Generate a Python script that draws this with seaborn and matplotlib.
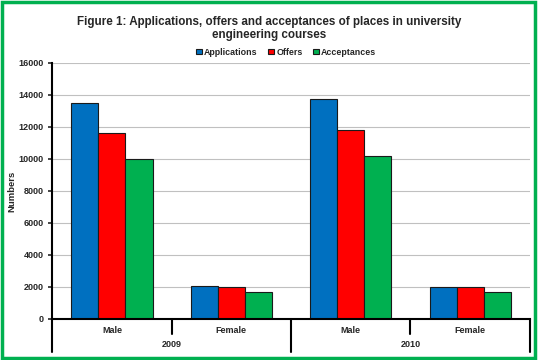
import numpy as np
import pandas as pd
import matplotlib
matplotlib.use("Agg")
import matplotlib.pyplot as plt
import matplotlib.transforms as mtransforms
from matplotlib.patches import Rectangle
import seaborn as sns

# Data
years = ["2009", "2009", "2010", "2010"]
genders = ["Male", "Female", "Male", "Female"]
applications = [13500, 2080, 13750, 2020]
offers = [11600, 2000, 11800, 2020]
acceptances = [10000, 1680, 10200, 1690]
series_names = ["Applications", "Offers", "Acceptances"]
series_colors = ["#0070C0", "#FF0000", "#00B050"]

categories = [f"{y} {g}" for y, g in zip(years, genders)]
df = pd.DataFrame({
    "category": categories * 3,
    "series": np.repeat(series_names, len(categories)),
    "value": applications + offers + acceptances,
})

sns.set_theme(style="white")
plt.rcParams["font.family"] = ["Liberation Sans", "DejaVu Sans"]

fig = plt.figure(figsize=(5.38, 3.6), dpi=100)
ax = fig.add_axes([0.097, 0.114, 0.888, 0.711])

sns.barplot(
    data=df, x="category", y="value", hue="series",
    order=categories, hue_order=series_names,
    palette=series_colors, width=0.68, saturation=1,
    edgecolor="#1a1a1a", linewidth=0.8, ax=ax, legend=True,
)

ax.set_xlim(-0.5, 3.5)
ax.set_ylim(0, 16000)
ax.set_yticks(np.arange(0, 16001, 2000))
ax.yaxis.grid(True, color="#c0c0c0", linewidth=0.8)
ax.set_axisbelow(True)
for side in ["top", "right"]:
    ax.spines[side].set_visible(False)
for side in ["left", "bottom"]:
    ax.spines[side].set_color("black")
    ax.spines[side].set_linewidth(1.5)
ax.tick_params(axis="y", which="major", left=True, length=3, width=1.2,
               labelsize=6.5, pad=3)
for lab in ax.get_yticklabels():
    lab.set_fontweight("bold")

ax.set_xticks(range(len(categories)))
ax.set_xticklabels(genders, fontsize=6.5, fontweight="bold")
ax.tick_params(axis="x", length=0, pad=5)
ax.set_xlabel("")
ax.set_ylabel("Numbers", fontsize=6.8, fontweight="bold")
ax.yaxis.set_label_coords(-0.075, 0.5)

# Hierarchical x axis: separators and year labels
trans = mtransforms.blended_transform_factory(ax.transData, ax.transAxes)
for xb in [-0.5, 1.5, 3.5]:
    ax.plot([xb, xb], [0, -0.13], color="black", lw=1.5, transform=trans, clip_on=False)
for xb in [0.5, 2.5]:
    ax.plot([xb, xb], [0, -0.06], color="black", lw=1.5, transform=trans, clip_on=False)
for i, yr in enumerate(["2009", "2010"]):
    ax.text(0.5 + 2 * i, -0.10, yr, transform=trans, ha="center", va="center",
            fontsize=6.5, fontweight="bold")

# Legend
ax.legend(loc="lower center", bbox_to_anchor=(0.49, 1.0), ncol=3, frameon=False,
          prop={"size": 6.4, "weight": "bold"}, handlelength=0.6, handleheight=0.6,
          handletextpad=0.3, columnspacing=1.2, borderaxespad=0.3)

fig.text(0.5, 0.955, "Figure 1: Applications, offers and acceptances of places in university\nengineering courses",
         ha="center", va="top", fontsize=8.4, fontweight="bold", linespacing=1.1)

# Green frame around the chart
fig.patches.append(Rectangle((0.004, 0.006), 0.99, 0.988, transform=fig.transFigure,
                             fill=False, edgecolor="#00B050", linewidth=2.5))

fig.savefig("out.png", dpi=100)
